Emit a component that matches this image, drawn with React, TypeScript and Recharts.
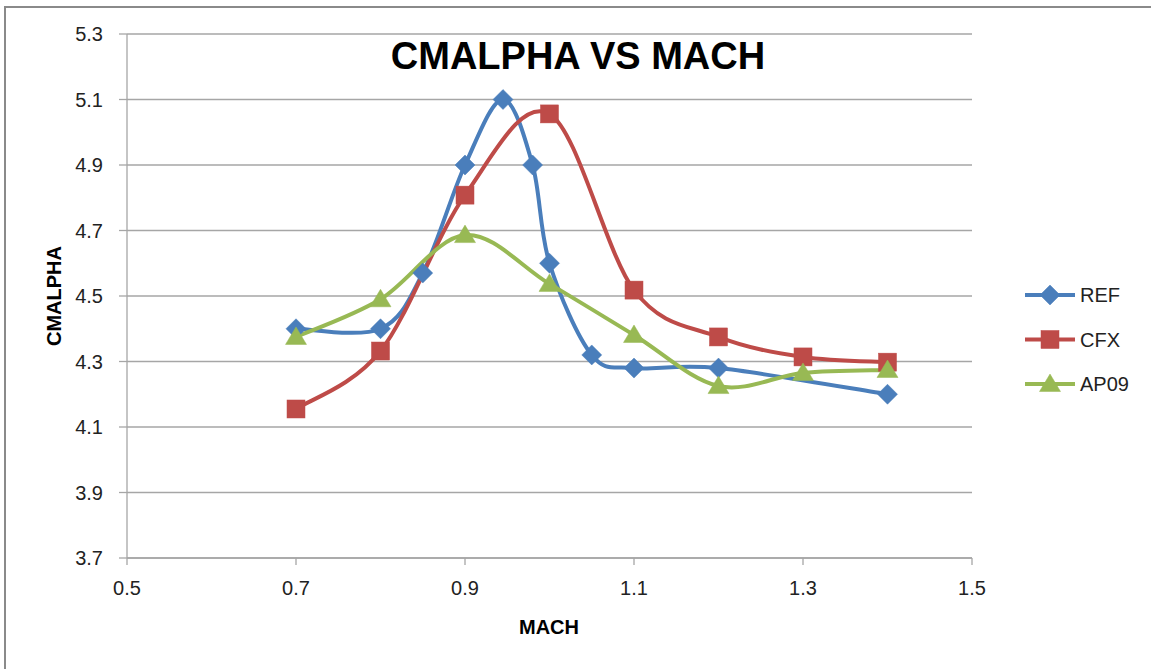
import React from 'react';
import { LineChart, Line, XAxis, YAxis, CartesianGrid } from 'recharts';

const refMach = [0.7, 0.8, 0.85, 0.9, 0.945, 0.98, 1.0, 1.05, 1.1, 1.2, 1.4];
const refCm = [4.4, 4.4, 4.57, 4.9, 5.1, 4.9, 4.6, 4.32, 4.28, 4.28, 4.2];
const cfxMach = [0.7, 0.8, 0.9, 1.0, 1.1, 1.2, 1.3, 1.4];
const cfxCm = [4.155, 4.332, 4.808, 5.056, 4.518, 4.375, 4.314, 4.298];
const apMach = [0.7, 0.8, 0.9, 1.0, 1.1, 1.2, 1.3, 1.4];
const apCm = [4.375, 4.49, 4.686, 4.537, 4.381, 4.225, 4.265, 4.274];

const xTicks = [0.5, 0.7, 0.9, 1.1, 1.3, 1.5];
const yTicks = [3.7, 3.9, 4.1, 4.3, 4.5, 4.7, 4.9, 5.1, 5.3];
const seriesNames = ['REF', 'CFX', 'AP09'];
const title = 'CMALPHA VS MACH';
const xTitle = 'MACH';
const yTitle = 'CMALPHA';

const BLUE = '#4A7EBB';
const RED = '#BE4B48';
const GREEN = '#98B954';
const GRID = '#a6a6a6';
const FONT = '"Liberation Sans", Arial, sans-serif';

const zip = (xs: number[], ys: number[]) => xs.map((x, i) => ({ x, y: ys[i] }));
const refData = zip(refMach, refCm);
const cfxData = zip(cfxMach, cfxCm);
const apData = zip(apMach, apCm);

// Excel-like smoothing (Catmull-Rom style bezier)
function excelCurve(context: any) {
  let xs: number[] = [];
  let ys: number[] = [];
  return {
    areaStart() {},
    areaEnd() {},
    lineStart() {
      xs = [];
      ys = [];
    },
    point(x: number, y: number) {
      xs.push(+x);
      ys.push(+y);
    },
    lineEnd() {
      const n = xs.length;
      if (!n) return;
      context.moveTo(xs[0], ys[0]);
      for (let i = 0; i < n - 1; i++) {
        const a = Math.max(i - 1, 0);
        const d = Math.min(i + 2, n - 1);
        const c1x = xs[i] + (xs[i + 1] - xs[a]) / 6;
        const c1y = ys[i] + (ys[i + 1] - ys[a]) / 6;
        const c2x = xs[i + 1] - (xs[d] - xs[i]) / 6;
        const c2y = ys[i + 1] - (ys[d] - ys[i]) / 6;
        context.bezierCurveTo(c1x, c1y, c2x, c2y, xs[i + 1], ys[i + 1]);
      }
    },
  };
}

const Diamond = (cx: number, cy: number, k?: any) => (
  <path key={k} d={`M${cx},${cy - 10} L${cx + 10},${cy} L${cx},${cy + 10} L${cx - 10},${cy} Z`} fill={BLUE} stroke={BLUE} strokeWidth={0.5} />
);
const Square = (cx: number, cy: number, k?: any) => (
  <rect key={k} x={cx - 9} y={cy - 9} width={18} height={18} fill={RED} stroke={RED} strokeWidth={0.5} />
);
const Triangle = (cx: number, cy: number, k?: any) => (
  <path key={k} d={`M${cx},${cy - 10} L${cx + 10.5},${cy + 7.5} L${cx - 10.5},${cy + 7.5} Z`} fill={GREEN} stroke={GREEN} strokeWidth={0.5} />
);

const markers = [Diamond, Square, Triangle];
const colors = [BLUE, RED, GREEN];

const makeDot = (fn: any) => (props: any) => {
  const { cx, cy, index } = props;
  if (cx == null || cy == null) return <g key={index} />;
  return fn(cx, cy, index);
};

export default function App() {
  return (
    <div style={{ position: 'absolute', left: 0, top: 0, width: 1151, height: 669, background: '#fff', fontFamily: FONT }}>
      <div style={{ position: 'absolute', left: 4, top: 6, width: 1147, height: 663, borderLeft: '2px solid #8a8a8a', borderTop: '2px solid #8a8a8a', boxSizing: 'border-box' }} />
      <div style={{ position: 'absolute', left: 0, top: 0 }}>
        <LineChart width={1151} height={669} margin={{ top: 34, right: 179, bottom: 81, left: 0 }}>
          <CartesianGrid horizontal vertical={false} stroke={GRID} strokeWidth={1.3} />
          <XAxis
            type="number"
            dataKey="x"
            domain={[0.5, 1.5]}
            ticks={xTicks}
            allowDataOverflow
            height={30}
            tickFormatter={(v: number) => v.toFixed(1)}
            tick={{ fill: '#222', fontSize: 20, fontFamily: FONT }}
            tickSize={7}
            tickMargin={16}
            stroke={GRID}
            strokeWidth={1.3}
            allowDuplicatedCategory={false}
          />
          <YAxis
            type="number"
            dataKey="y"
            domain={[3.7, 5.3]}
            ticks={yTicks}
            allowDataOverflow
            width={127}
            tickFormatter={(v: number) => v.toFixed(1)}
            tick={{ fill: '#222', fontSize: 20, fontFamily: FONT }}
            tickSize={8}
            tickMargin={16}
            stroke={GRID}
            strokeWidth={1.3}
          />
          <Line data={refData} dataKey="y" name="REF" type={excelCurve as any} stroke={BLUE} strokeWidth={4} dot={makeDot(Diamond)} activeDot={false} isAnimationActive={false} />
          <Line data={cfxData} dataKey="y" name="CFX" type={excelCurve as any} stroke={RED} strokeWidth={4} dot={makeDot(Square)} activeDot={false} isAnimationActive={false} />
          <Line data={apData} dataKey="y" name="AP09" type={excelCurve as any} stroke={GREEN} strokeWidth={4} dot={makeDot(Triangle)} activeDot={false} isAnimationActive={false} />
        </LineChart>
      </div>
      <svg width={1151} height={669} style={{ position: 'absolute', left: 0, top: 0, pointerEvents: 'none' }}>
        <text x={578} y={69} textAnchor="middle" fontFamily={FONT} fontWeight="bold" fontSize={38} fill="#000">{title}</text>
        <text x={549} y={634} textAnchor="middle" fontFamily={FONT} fontWeight="bold" fontSize={20} fill="#000">{xTitle}</text>
        <text x={0} y={0} transform="translate(61,296) rotate(-90)" textAnchor="middle" fontFamily={FONT} fontWeight="bold" fontSize={20} fill="#000">{yTitle}</text>
        {seriesNames.map((name, i) => {
          const cy = 295 + i * 44.5;
          return (
            <g key={name}>
              <line x1={1025} y1={cy} x2={1075} y2={cy} stroke={colors[i]} strokeWidth={4} />
              {markers[i](1050, cy)}
              <text x={1080} y={cy + 7} fontFamily={FONT} fontSize={20} fill="#222">{name}</text>
            </g>
          );
        })}
      </svg>
    </div>
  );
}
